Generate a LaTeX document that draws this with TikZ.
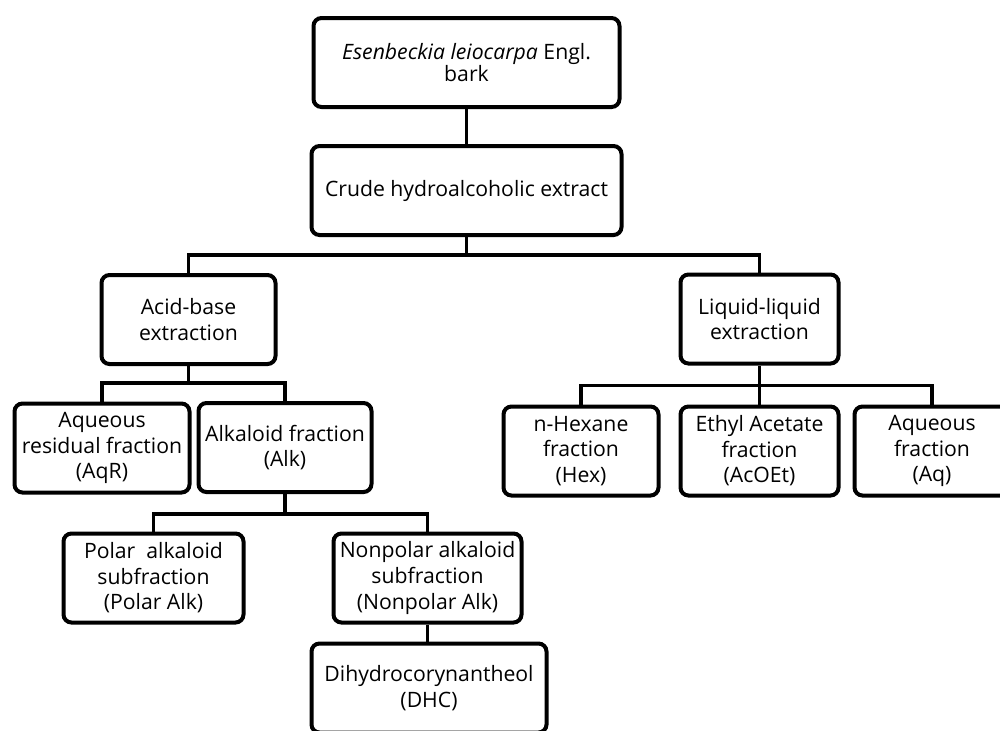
\documentclass[tikz,border=0pt]{standalone}
\usepackage{fontspec}
\setmainfont{Open Sans}
\begin{document}
\begin{tikzpicture}[x=0.5pt, y=-0.5pt,
    box/.style={draw, line width=2pt, rounded corners=4pt, inner sep=0pt,
        minimum height=44.5pt, align=center, font=\fontsize{10.6}{12.8}\selectfont},
    link/.style={line width=1.7pt}]
    % Frame (the figure is cut at right and bottom)
    \useasboundingbox (0,0) rectangle (1000,730);
    \clip (0,0) rectangle (1000,730);

    % Top
    \node[box, minimum width=153pt, font=\fontsize{10.6}{11}\selectfont] (bark) at (466.5,62.5) {\textit{Esenbeckia leiocarpa} Engl.\\bark};
    \node[box, minimum width=155pt] (crude) at (466.5,190.5) {Crude hydroalcoholic extract};

    % Extractions
    \node[box, minimum width=87pt] (acid) at (188.5,319.5) {Acid-base\\extraction};
    \node[box, minimum width=79pt] (liq) at (759.5,319) {Liquid-liquid\\extraction};

    % Fractions
    \node[box, minimum width=87.5pt] (aqr) at (102,448) {Aqueous\\residual fraction\\(AqR)};
    \node[box, minimum width=86.5pt] (alk) at (285,447.5) {Alkaloid fraction\\(Alk)};
    \node[box, minimum width=77.5pt] (hex) at (581,451) {n-Hexane\\fraction\\(Hex)};
    \node[box, minimum width=79pt] (acoet) at (759.5,451) {Ethyl Acetate\\fraction\\(AcOEt)};
    \node[box, minimum width=77.5pt] (aq) at (932,451) {Aqueous\\fraction\\(Aq)};

    % Subfractions
    \node[box, minimum width=90pt] (polar) at (153.5,578) {Polar~~alkaloid\\subfraction\\(Polar Alk)};
    \node[box, minimum width=94pt] (nonpolar) at (427.5,578) {Nonpolar alkaloid\\subfraction\\(Nonpolar Alk)};
    \node[box, minimum width=117.5pt] (dhc) at (429,688) {Dihydrocorynantheol\\(DHC)};

    % Connectors
    \draw[link] (bark) -- (crude);
    \draw[link] (crude.south) -- ++(0,18) coordinate (j1);
    \draw[link] (acid.north) |- (j1) -| (liq.north);

    \draw[link] (acid.south) -- ++(0,17) coordinate (j2);
    \draw[link] (aqr.north) |- (j2) -| (alk.north);

    \draw[link] (alk.south) -- ++(0,20) coordinate (j3);
    \draw[link] (polar.north) |- (j3) -| (nonpolar.north);
    \draw[link] (nonpolar.south) -- (nonpolar.south |- dhc.north);

    \draw[link] (liq.south) -- ++(0,20) coordinate (j4);
    \draw[link] (hex.north) |- (j4) -| (aq.north);
    \draw[link] (j4) -- (acoet.north);
\end{tikzpicture}
\end{document}
